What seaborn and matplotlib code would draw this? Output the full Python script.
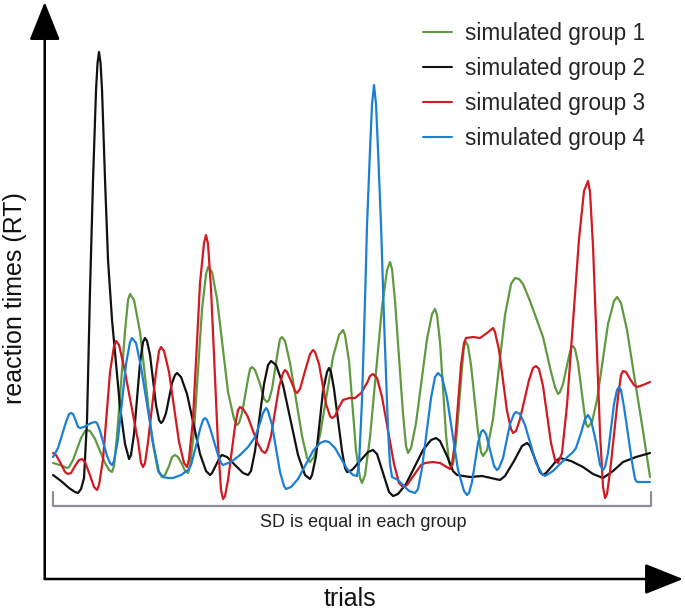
import numpy as np
import pandas as pd
import matplotlib
matplotlib.use("Agg")
import matplotlib.pyplot as plt
import seaborn as sns

# ---------------------------------------------
# data (trial index, RT in arbitrary units)
# ---------------------------------------------
g1_x = [0, 7, 14, 16, 20, 28, 32, 34, 37, 42, 52, 56, 59, 61, 64, 72, 75, 77, 81, 87,
        99, 105, 109, 112, 116, 119, 122, 125, 129, 132, 135, 137, 141, 149, 153, 155, 159, 164, 175, 181,
        184, 186, 189, 195, 197, 199, 202, 207, 211, 214, 216, 219, 225, 227, 229, 232, 237, 249, 254, 257,
        261, 267, 280, 286, 290, 292, 296, 303, 307, 309, 312, 317, 329, 334, 337, 339, 342, 350, 353, 355,
        358, 363, 374, 379, 382, 384, 387, 393, 396, 398, 400, 403, 409, 411, 413, 415, 418, 425, 428, 430,
        434, 440, 452, 458, 462, 466, 470, 477, 490, 498, 502, 505, 507, 510, 516, 518, 520, 522, 525, 531,
        533, 535, 539, 544, 555, 561, 564, 568, 574, 582, 590, 597]
g1_rt = [116, 114, 111, 112, 119, 141, 148, 149, 148, 140, 116, 109, 107, 113, 144, 248, 279, 285, 279, 247,
         140, 108, 102, 104, 113, 122, 124, 122, 115, 108, 106, 113, 148, 270, 305, 312, 307, 280, 187, 160,
         154, 156, 166, 200, 210, 212, 209, 195, 180, 177, 179, 190, 229, 240, 242, 238, 216, 143, 121, 117,
         122, 144, 222, 244, 249, 244, 218, 128, 101, 96, 104, 142, 272, 309, 317, 310, 278, 165, 133, 126,
         131, 156, 240, 265, 270, 264, 237, 144, 117, 111, 115, 137, 211, 233, 237, 233, 214, 147, 127, 123,
         129, 160, 264, 295, 301, 300, 295, 278, 242, 207, 192, 185, 187, 195, 223, 231, 233, 230, 216, 169,
         155, 152, 157, 179, 255, 278, 282, 276, 249, 198, 148, 102]

g2_x = [0, 8, 16, 22, 25, 28, 31, 34, 37, 40, 43, 44.5, 46, 47.5, 49, 52, 55, 59, 67, 72,
        76, 78, 81, 87, 90, 92, 94, 97, 103, 106, 108, 110, 113, 119, 122, 124, 128, 134, 147, 153,
        157, 159, 163, 167, 169, 174, 182, 190, 195, 198, 202, 211, 215, 218, 223, 230, 245, 252, 257, 259,
        263, 270, 274, 276, 278, 281, 289, 292, 294, 299, 307, 315, 320, 324, 330, 336, 340, 345, 353, 370,
        378, 383, 387, 394, 400, 404, 417, 429, 447, 452, 461, 469, 474, 477, 482, 487, 490, 493, 499, 504,
        507, 518, 530, 540, 550, 560, 570, 583, 597]
g2_rt = [104, 98, 91, 87, 86, 90, 101, 159, 289, 399, 489, 516, 527, 516, 489, 399, 319, 259, 172, 135,
         120, 124, 145, 216, 237, 241, 238, 224, 174, 159, 156, 158, 166, 196, 204, 206, 202, 185, 125, 108,
         104, 106, 114, 122, 124, 122, 114, 106, 104, 108, 128, 195, 214, 218, 214, 194, 124, 104, 100, 104,
         123, 188, 207, 211, 207, 190, 128, 111, 107, 109, 118, 127, 129, 125, 106, 87, 83, 85, 95, 129,
         139, 141, 138, 123, 108, 104, 102, 103, 99, 103, 118, 133, 136, 133, 120, 107, 104, 106, 113, 119,
         121, 118, 112, 105, 101, 108, 117, 122, 126]

g3_x = [0, 3, 7.5, 12, 15, 18, 22, 26, 29, 32, 36.5, 41, 44, 46, 50, 57, 61, 63, 66, 71,
        85, 88, 90, 92, 95, 103, 106, 108, 111, 116, 126, 131, 134, 136, 140, 147, 151, 153, 155, 158,
        165, 168, 170, 172, 175, 182, 185, 187, 190, 194.5, 204.5, 209, 212, 214, 218, 226, 230, 232, 234, 238,
        242, 244, 247, 252, 257, 260, 262, 266, 273, 277, 279, 282, 286, 290, 296, 302, 308, 314, 317, 320,
        324, 329, 341, 346, 350, 354, 361, 368, 372, 380, 387, 392, 397, 399, 402, 408, 411, 413, 420, 427,
        434, 440, 442, 446, 454, 458, 460, 463, 467, 476, 480, 483, 486, 490, 498, 502, 505, 509, 514, 526,
        531, 535, 537, 540, 547, 550, 552, 554, 557, 565, 568, 570, 573, 577, 581, 584, 590, 597]
g3_rt = [126, 124, 116, 107, 105, 106, 113, 119, 120, 117, 105, 92, 89, 94, 120, 207, 233, 238, 234, 212,
         138, 116, 112, 116, 137, 207, 228, 232, 228, 207, 137, 116, 112, 120, 160, 296, 336, 344, 335, 290,
         134, 89, 80, 83, 99, 153, 169, 172, 170, 163, 136, 128, 126, 129, 143, 192, 206, 209, 207, 198,
         188, 186, 190, 208, 225, 229, 227, 215, 175, 163, 161, 163, 172, 179, 181, 181, 186, 196, 203, 205,
         201, 182, 115, 96, 92, 94, 104, 114, 116, 117, 116, 113, 110, 115, 137, 214, 236, 241, 242, 241,
         246, 251, 247, 229, 168, 150, 146, 148, 160, 199, 211, 213, 210, 193, 136, 119, 116, 126, 174, 340,
         388, 398, 387, 333, 146, 92, 81, 85, 107, 182, 204, 208, 207, 200, 194, 192, 194, 197]

g4_x = [0, 5, 13, 16, 18, 20, 22.5, 25, 27, 31, 34.5, 38, 42, 44, 47, 54, 57, 59, 61, 65,
        73, 77, 79, 83, 88, 101, 106, 110, 115, 120, 128, 135, 138, 143.5, 147, 150, 152, 154, 157, 165,
        168, 170, 178, 187, 195, 202, 207, 210, 213, 215, 219, 227, 231, 233, 238, 245, 260, 267, 272, 276,
        282, 294, 300, 304, 306, 309, 312, 314, 317, 319, 321, 323, 325, 328, 331, 335, 337, 339, 345, 350,
        356, 362, 365, 369, 378, 382, 385, 389, 394, 405, 411, 414, 416, 419, 425, 428, 430, 433, 437, 441,
        444, 446, 450, 457, 461, 463, 467, 472, 483, 489, 492, 500, 509, 520, 523, 528, 532, 535, 538, 543,
        547, 550, 552, 555, 561, 564, 566, 568, 571, 579, 582, 584, 590, 597]
g4_rt = [122, 131, 157, 165, 166, 165, 159, 152, 151, 152, 154, 156, 157, 156, 148, 123, 116, 114, 118, 140,
         215, 237, 241, 236, 212, 131, 107, 102, 101, 101, 104, 109, 114, 135, 150, 159, 161, 159, 151, 124,
         116, 114, 117, 124, 132, 142, 156, 166, 171, 168, 154, 107, 93, 90, 92, 100, 128, 136, 138, 137,
         131, 110, 104, 103, 115, 179, 279, 354, 429, 475, 494, 475, 429, 354, 259, 149, 115, 102, 99, 94,
         88, 86, 90, 111, 181, 202, 206, 202, 181, 109, 88, 84, 86, 97, 136, 147, 149, 145, 129, 113,
         109, 111, 121, 155, 165, 167, 165, 154, 116, 105, 103, 108, 117, 127, 131, 146, 160, 164, 159, 137,
         114, 109, 112, 126, 175, 189, 192, 189, 172, 117, 100, 97, 97, 97]

labels = ["simulated group 1", "simulated group 2", "simulated group 3", "simulated group 4"]
colors = ["#5f9a40", "#111111", "#d11a22", "#1a7fd5"]

# ---------------------------------------------
# figure
# ---------------------------------------------
sns.set_theme(style="white")
plt.rcParams["font.family"] = ["Liberation Sans", "DejaVu Sans"]

fig = plt.figure(figsize=(6.85, 6.14), dpi=100)
ax = fig.add_axes([0.0653, 0.057, 0.9318, 0.9397])

series = [(g1_x, g1_rt), (g2_x, g2_rt), (g3_x, g3_rt), (g4_x, g4_rt)]
for (xs, ys), lab, col in zip(series, labels, colors):
    df = pd.DataFrame({"trial": xs, "rt": ys})
    sns.lineplot(data=df, x="trial", y="rt", ax=ax, color=col, lw=1.6,
                 sort=False, estimator=None, label=lab)
for ln in ax.get_lines():
    ln.set_solid_joinstyle("round")
    ln.set_solid_capstyle("round")

ax.set_xlim(-8.3, 630)
ax.set_ylim(0, 577)
ax.set_xticks([])
ax.set_yticks([])
ax.set_xlabel("")
ax.set_ylabel("")
for s in ax.spines.values():
    s.set_visible(False)

# axis arrows
arrow = dict(arrowstyle="-|>,head_length=2.0,head_width=0.8", color="black",
             lw=1.8, shrinkA=0, shrinkB=0)
ax.annotate("", xy=(0, 1), xytext=(0, 0), xycoords="axes fraction", arrowprops=arrow,
            annotation_clip=False)
ax.annotate("", xy=(1, 0), xytext=(0, 0), xycoords="axes fraction", arrowprops=arrow,
            annotation_clip=False)

# bracket under the curves
x0, x1 = min(g1_x), max(g1_x) + 1
ax.plot([x0, x0, x1, x1], [87, 73, 73, 87], color="#8e8e96", lw=1.6, clip_on=False)
ax.text(310, 57, "SD is equal in each group", ha="center", va="center",
        fontsize=13, color="#222222")

fig.text(15 / 685, 1 - 298 / 614, "reaction times (RT)", rotation=90, ha="center",
         va="center", fontsize=18, color="#111111")
fig.text(350 / 685, 1 - 599 / 614, "trials", ha="center", va="center", fontsize=18,
         color="#111111")

leg = ax.legend(loc="upper right", bbox_to_anchor=(0.9405, 0.965), frameon=False,
                fontsize=16.3, handlelength=1.3, handletextpad=0.55, labelspacing=0.52,
                borderpad=0, borderaxespad=0)
for h in leg.get_lines():
    h.set_linewidth(1.5)

fig.savefig("out.png", dpi=100)
